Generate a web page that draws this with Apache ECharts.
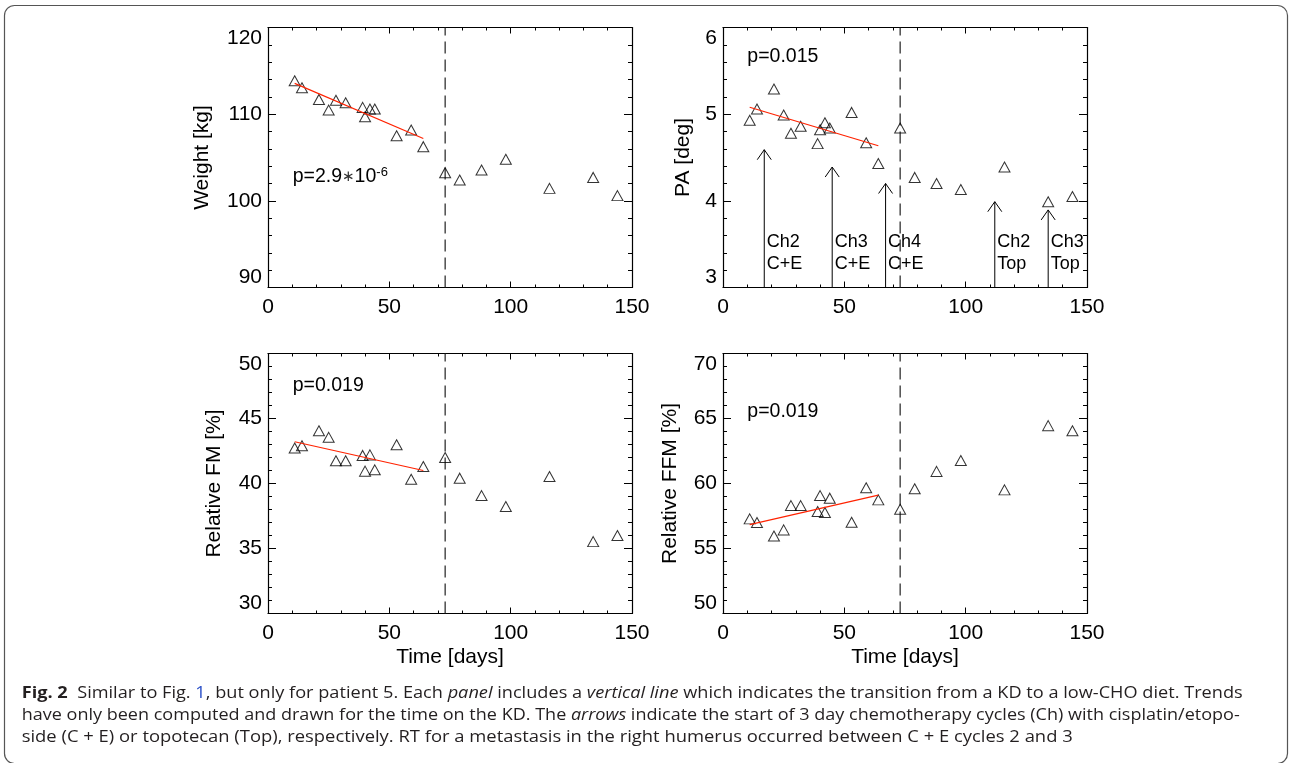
<!DOCTYPE html>
<html>
<head>
<meta charset="utf-8">
<title>Fig. 2 - patient 5</title>
<script src="https://cdn.jsdelivr.net/npm/echarts@6/dist/echarts.min.js"></script>
<style>
html, body { margin: 0; padding: 0; background: #fff; }
#main { width: 1290px; height: 763px; }
</style>
</head>
<body>
<div id="main"></div>
<script>
// ---- data ----
var days = [11, 14, 21, 25, 28, 32, 39, 40, 42, 44, 53, 59, 64, 73, 79, 88, 98, 116, 134, 144];
var weight = [113.85, 113.05, 111.7, 110.47, 111.6, 111.32, 110.78, 109.7, 110.6, 110.6,
              107.5, 108.17, 106.25, 103.25, 102.4, 103.56, 104.8, 101.44, 102.7, 100.6];
var pa = [4.93, 5.06, 5.29, 4.99, 4.78, 4.86, 4.66, 4.82, 4.90, 4.84,
          5.02, 4.67, 4.43, 4.84, 4.27, 4.20, 4.13, 4.39, 3.99, 4.05];
var fm = [42.73, 42.9, 44.06, 43.55, 41.75, 41.75, 42.16, 40.95, 42.2, 41.05,
          42.98, 40.33, 41.31, 42.0, 40.41, 39.07, 38.23, 40.54, 35.53, 36.0];
var ffm = [57.28, 57.0, 55.96, 56.43, 58.3, 58.3, 57.84, 59.07, 57.77, 58.87,
           57.02, 59.67, 58.74, 58.02, 59.59, 60.93, 61.77, 59.51, 64.45, 64.06];

// trend lines (KD period only)
var trendDays = [11, 64];
var weightTrend = [113.55, 107.2];
var paTrend = [5.08, 4.636];
var fmTrend = [43.21, 41.0];
var ffmTrend = [56.84, 59.1];

// end of KD (vertical dashed line)
var kdEnd = 73;

// chemotherapy cycle arrows (PA panel)
var chemoDays = [17, 45, 67, 112, 134];
var chemoTips = [4.59, 4.39, 4.20, 3.99, 3.895];
var chemoLabels = ['Ch2\nC+E', 'Ch3\nC+E', 'Ch4\nC+E', 'Ch2\nTop', 'Ch3\nTop'];

// p-values; the first one is 2.9*10^-6
var pTexts = ['{n|p=2.9}{a|\u2217}{n|10}{s|-6}', '{n|p=0.015}', '{n|p=0.019}', '{n|p=0.019}'];

var FONT = '"Liberation Sans", Arial, Helvetica, sans-serif';
var CAPFONT = '"Open Sans", "Noto Sans", sans-serif';

var chart = echarts.init(document.getElementById('main'));

var panels = [
    {title: 'Weight [kg]', min: 90, max: 120, interval: 10, gap: 55, vals: weight, trend: weightTrend},
    {title: 'PA [deg]', min: 3, max: 6, interval: 1, gap: 29, vals: pa, trend: paTrend},
    {title: 'Relative FM [%]', min: 30, max: 50, interval: 5, gap: 43, vals: fm, trend: fmTrend},
    {title: 'Relative FFM [%]', min: 50, max: 70, interval: 5, gap: 42, vals: ffm, trend: ffmTrend}
];

var grids = [
    {left: 268, top: 27.5, width: 364, height: 260},
    {left: 723, top: 27.5, width: 364, height: 260},
    {left: 268, top: 353.5, width: 364, height: 260},
    {left: 723, top: 353.5, width: 364, height: 260}
];

var lineBlack = {color: '#000', width: 1.2};
var xAxes = [], yAxes = [], series = [];

panels.forEach(function (p, i) {
    // bottom x axis with labels
    xAxes.push({
        type: 'value', gridIndex: i, position: 'bottom', min: 0, max: 150, interval: 50,
        name: i >= 2 ? 'Time [days]' : '', nameLocation: 'middle', nameGap: 33,
        nameTextStyle: {fontSize: 21, color: '#000', fontFamily: FONT},
        axisLine: {show: true, onZero: false, lineStyle: lineBlack},
        axisTick: {show: true, inside: true, length: 6, lineStyle: {color: '#000', width: 1}},
        minorTick: {show: true, splitNumber: 5, length: 3, lineStyle: {color: '#000', width: 1}},
        splitLine: {show: false},
        axisLabel: {fontSize: 21, color: '#000', margin: 9, fontFamily: FONT, showMinLabel: true, showMaxLabel: true}
    });
    // top x axis, ticks only
    xAxes.push({
        type: 'value', gridIndex: i, position: 'top', min: 0, max: 150, interval: 50,
        axisLine: {show: true, onZero: false, lineStyle: lineBlack},
        axisTick: {show: true, inside: true, length: 6, lineStyle: {color: '#000', width: 1}},
        minorTick: {show: true, splitNumber: 5, length: 3, lineStyle: {color: '#000', width: 1}},
        splitLine: {show: false},
        axisLabel: {show: false}
    });
    // left y axis with labels
    yAxes.push({
        type: 'value', gridIndex: i, position: 'left', min: p.min, max: p.max, interval: p.interval,
        name: p.title, nameLocation: 'middle', nameGap: p.gap, nameRotate: 90,
        nameTextStyle: {fontSize: 21, color: '#000', fontFamily: FONT},
        axisLine: {show: true, onZero: false, lineStyle: lineBlack},
        axisTick: {show: true, inside: true, length: 8, lineStyle: {color: '#000', width: 1}},
        minorTick: {show: true, splitNumber: 5, length: 4, lineStyle: {color: '#000', width: 1}},
        splitLine: {show: false},
        axisLabel: {fontSize: 21, color: '#000', margin: 6, fontFamily: FONT,
            showMinLabel: true, showMaxLabel: true,
            verticalAlignMinLabel: 'bottom', verticalAlignMaxLabel: 'top'}
    });
    // right y axis, ticks only
    yAxes.push({
        type: 'value', gridIndex: i, position: 'right', min: p.min, max: p.max, interval: p.interval,
        axisLine: {show: true, onZero: false, lineStyle: lineBlack},
        axisTick: {show: true, inside: true, length: 8, lineStyle: {color: '#000', width: 1}},
        minorTick: {show: true, splitNumber: 5, length: 4, lineStyle: {color: '#000', width: 1}},
        splitLine: {show: false},
        axisLabel: {show: false}
    });

    var xi = 2 * i, yi = 2 * i;
    series.push({
        type: 'scatter', xAxisIndex: xi, yAxisIndex: yi, silent: true,
        symbol: 'triangle', symbolSize: [11, 10],
        itemStyle: {color: 'rgba(0,0,0,0)', borderColor: '#000', borderWidth: 1},
        data: days.map(function (d, j) { return [d, p.vals[j]]; }),
        z: 3
    });
    series.push({
        type: 'line', xAxisIndex: xi, yAxisIndex: yi, silent: true, showSymbol: false,
        lineStyle: {color: '#ff2200', width: 1.2},
        data: trendDays.map(function (d, j) { return [d, p.trend[j]]; }),
        z: 4
    });
    series.push({
        type: 'line', xAxisIndex: xi, yAxisIndex: yi, silent: true, showSymbol: false,
        lineStyle: {color: '#222', width: 1.2, type: [12, 6]},
        data: [[kdEnd, p.min], [kdEnd, p.max]],
        z: 2
    });
});

// arrows marking the chemotherapy cycles
series.push({
    type: 'custom', xAxisIndex: 2, yAxisIndex: 2, silent: true, z: 5,
    data: chemoDays.map(function (d, j) { return [d, chemoTips[j], j]; }),
    renderItem: function (params, api) {
        var x = api.value(0);
        var b = api.coord([x, panels[1].min]);
        var t = api.coord([x, api.value(1)]);
        return {
            type: 'group',
            children: [
                {type: 'line', shape: {x1: b[0], y1: b[1], x2: t[0], y2: t[1]},
                 style: {stroke: '#000', lineWidth: 1}},
                {type: 'polyline', shape: {points: [[t[0] - 7, t[1] + 10], [t[0], t[1]], [t[0] + 7, t[1] + 10]]},
                 style: {stroke: '#000', fill: null, lineWidth: 1}},
                {type: 'text', x: b[0] + 2.5, y: b[1] - 56,
                 style: {text: chemoLabels[api.value(2)], fontSize: 18, fontFamily: FONT,
                         lineHeight: 22, fill: '#000', align: 'left', verticalAlign: 'top'}}
            ]
        };
    }
});

// p-value annotations
var pPos = [[292.7, 176.7], [747.3, 56.7], [292.7, 386], [747.3, 411.7]];
var graphics = pTexts.map(function (txt, i) {
    return {
        type: 'text', x: pPos[i][0], y: pPos[i][1], silent: true,
        style: {
            text: txt,
            rich: {
                n: {fontSize: 19.5, fontFamily: FONT, fill: '#000', lineHeight: 22},
                a: {fontSize: 15, fontFamily: '"DejaVu Sans", sans-serif', fill: '#333', lineHeight: 22},
                s: {fontSize: 13, fontFamily: FONT, fill: '#000', lineHeight: 22, verticalAlign: 'top'}
            },
            verticalAlign: 'middle', align: 'left'
        }
    };
});

// frame (bottom edge falls just outside the picture)
graphics.push({
    type: 'rect', silent: true,
    shape: {x: 4.5, y: 5.5, width: 1283, height: 758, r: 10},
    style: {fill: 'none', stroke: '#555', lineWidth: 1.2}
});

// caption, stretched so each line ends where it does in the figure
var capLines = [
    [['b', 'Fig. 2'], ['n', '  Similar to Fig. '], ['u', '1'], ['n', ', but only for patient 5. Each '],
     ['i', 'panel'], ['n', ' includes a '], ['i', 'vertical line'],
     ['n', ' which indicates the transition from a KD to a low-CHO diet. Trends']],
    [['n', 'have only been computed and drawn for the time on the KD. The '], ['i', 'arrows'],
     ['n', ' indicate the start of 3 day chemotherapy cycles (Ch) with cisplatin/etopo-']],
    [['n', 'side (C + E) or topotecan (Top), respectively. RT for a metastasis in the right humerus occurred between C + E cycles 2 and 3']]
];
var capWidths = [1221, 1218, 1051];
var capY = [694, 716, 738];
var capSize = 15.5;
var capFonts = {
    n: capSize + 'px ' + CAPFONT,
    b: 'bold ' + capSize + 'px ' + CAPFONT,
    i: 'italic ' + capSize + 'px ' + CAPFONT,
    u: capSize + 'px ' + CAPFONT
};
var ctx = document.createElement('canvas').getContext('2d');
capLines.forEach(function (line, k) {
    var w = 0;
    line.forEach(function (seg) { ctx.font = capFonts[seg[0]]; w += ctx.measureText(seg[1]).width; });
    var text = line.map(function (seg) {
        return '{' + seg[0] + '|' + seg[1].replace(/[{}|]/g, '') + '}';
    }).join('');
    graphics.push({
        type: 'text', x: 21.7, y: capY[k], scaleX: capWidths[k] / w, silent: true,
        style: {
            text: text, verticalAlign: 'middle', align: 'left',
            rich: {
                n: {fontSize: capSize, fontFamily: CAPFONT, fill: '#231f20'},
                b: {fontSize: capSize, fontFamily: CAPFONT, fontWeight: 'bold', fill: '#231f20'},
                i: {fontSize: capSize, fontFamily: CAPFONT, fontStyle: 'italic', fill: '#231f20'},
                u: {fontSize: capSize, fontFamily: CAPFONT, fill: '#2b50c8'}
            }
        }
    });
});

chart.setOption({
    animation: false,
    backgroundColor: '#fff',
    grid: grids.map(function (g) {
        return {left: g.left, top: g.top, width: g.width, height: g.height, outerBoundsMode: 'none'};
    }),
    xAxis: xAxes,
    yAxis: yAxes,
    series: series,
    graphic: graphics
});
</script>
</body>
</html>
